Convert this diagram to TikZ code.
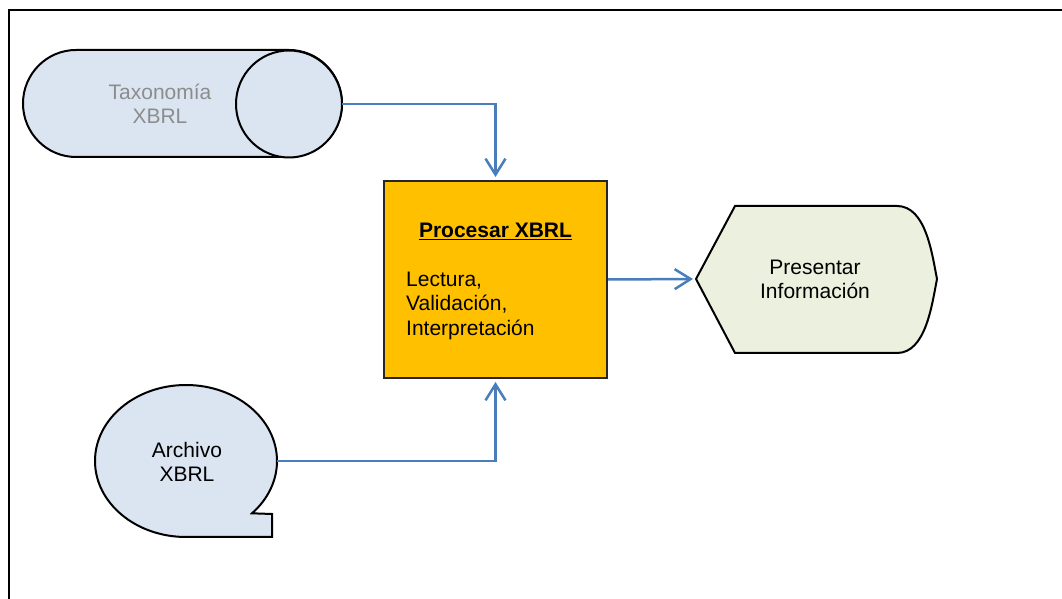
\documentclass[tikz,border=0pt]{standalone}
\usepackage{fontspec}
\setmainfont{Liberation Sans}
\usetikzlibrary{arrows.meta}
\definecolor{inputfill}{HTML}{DBE5F1}
\definecolor{procfill}{HTML}{FFC000}
\definecolor{outfill}{HTML}{EBF1DE}
\definecolor{flowblue}{HTML}{4A7EBB}
\definecolor{labelgray}{HTML}{8C8C8C}
\tikzset{
  shapeline/.style={draw=black, line width=2pt},
  flow/.style={draw=flowblue, line width=2.5pt,
    -{Straight Barb[length=16pt,width=20pt,line width=2.5pt]}, shorten >=3pt},
  lbl/.style={align=center, font=\fontsize{21}{24}\selectfont, inner sep=0pt},
}
\begin{document}
\begin{tikzpicture}[x=1pt,y=1pt]
\useasboundingbox (0,0) rectangle (1062,599);
% outer frame, running past the right and bottom edges
\draw[line width=2pt] (9,-20) -- (9,589) -- (1080,589);

% stored data: horizontal cylinder
\draw[shapeline, fill=inputfill] (76,549) -- (289,549)
  arc[start angle=90, end angle=-90, x radius=53, y radius=53.5]
  -- (76,442)
  arc[start angle=270, end angle=90, x radius=53, y radius=53.5] -- cycle;
\draw[shapeline, fill=inputfill] (289,495) ellipse[x radius=53, y radius=53.5];
\coordinate (taxout) at (342,495);
\node[lbl, text=labelgray] (tax) at (160,495.5) {Taxonomía\\XBRL};

% file: bubble with a square notch
\draw[shapeline, fill=inputfill] (272,62) -- (186,62)
  arc[start angle=270, end angle=-43.5, x radius=91, y radius=76]
  -- (272,85) -- cycle;
\coordinate (fileout) at (277,138);
\node[lbl] (file) at (187,137) {Archivo\\XBRL};

% process box
\node[draw=black!85, line width=2pt, fill=procfill, minimum width=223pt,
  minimum height=197pt, inner sep=0pt] (proc) at (495.5,319.5) {};
\node[font=\fontsize{21}{24}\selectfont\bfseries, inner sep=0pt, anchor=base]
  (title) at (495.5,361) {\underline{Procesar XBRL}};
\node[font=\fontsize{21}{24.5}\selectfont, align=left, inner sep=0pt,
  anchor=north west] (steps) at (406,327.5)
  {Lectura,\\Validación,\\Interpretación};

% display shape
\draw[shapeline, fill=outfill] (696,320) -- (735,393) -- (897,393)
  .. controls (926,393) and (932,345) .. (937,320)
  .. controls (932,295) and (926,246) .. (897,246)
  -- (735,246) -- cycle;
\coordinate (dispin) at (696,320);
\node[lbl] (disp) at (815,319.5) {Presentar\\Información};

% connectors
\draw[flow] (taxout) -| (proc.north);
\draw[flow] (fileout) -| (proc.south);
\draw[flow] (proc.east) -- (dispin);
\end{tikzpicture}
\end{document}
